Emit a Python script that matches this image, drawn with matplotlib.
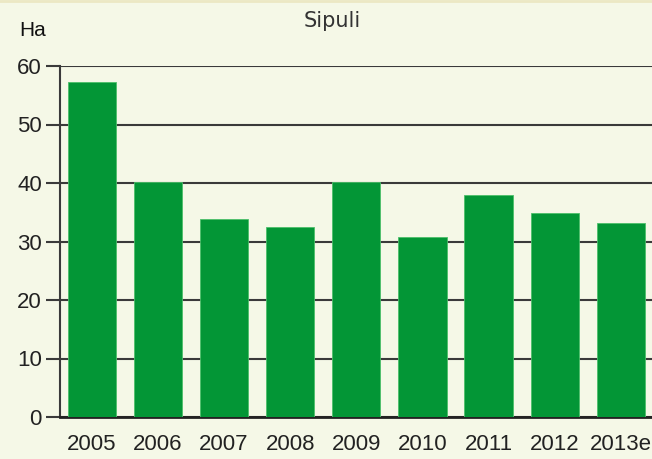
import matplotlib.pyplot as plt
from matplotlib import font_manager

years = ['2005', '2006', '2007', '2008', '2009', '2010', '2011', '2012', '2013e']
hectares = [57.3, 40.2, 33.8, 32.5, 40.2, 30.8, 37.9, 34.9, 33.2]
y_ticks = [0, 10, 20, 30, 40, 50, 60]

names = {f.name for f in font_manager.fontManager.ttflist}
narrow = 'Liberation Sans Narrow' if 'Liberation Sans Narrow' in names else 'Liberation Sans'

bg = '#f5f8e7'
bar_color = '#039636'
grid_color = '#3a3a3a'

W, H = 652, 459
fig = plt.figure(figsize=(W / 100, H / 100), dpi=100, facecolor=bg)
ax = fig.add_axes([60 / W, (H - 417) / H, (W - 60) / W, (417 - 66) / H])
ax.set_facecolor(bg)

x = list(range(len(years)))
ax.bar(x, hectares, width=0.73, color=bar_color, edgecolor='#4cbf6a', linewidth=0.6, zorder=3)

ax.set_xlim(-0.48, 8.47)
ax.set_ylim(0, 60)
ax.set_yticks(y_ticks)
ax.set_yticklabels([str(v) for v in y_ticks], fontfamily=narrow, fontsize=16, color='#222222')
ax.set_xticks(x)
ax.set_xticklabels(years, fontfamily=narrow, fontsize=16, color='#222222')
ax.tick_params(axis='y', length=10, width=1.5, color=grid_color, pad=3)
ax.tick_params(axis='x', length=0, pad=12)

ax.grid(axis='y', color=grid_color, linewidth=1.5, zorder=0)
ax.set_axisbelow(True)
for side in ['top', 'right']:
    ax.spines[side].set_visible(False)
ax.spines['left'].set_color(grid_color)
ax.spines['left'].set_linewidth(1.5)
ax.spines['bottom'].set_color('#222222')
ax.spines['bottom'].set_linewidth(2)

fig.text(33 / W, 1 - 31 / H, 'Ha', ha='center', va='center', fontfamily=narrow, fontsize=15, color='#111111')
fig.text(332 / W, 1 - 21 / H, 'Sipuli', ha='center', va='center', fontfamily='DejaVu Sans', fontsize=15, color='#333333')
fig.add_artist(plt.Line2D([0, 1], [1 - 1 / H, 1 - 1 / H], transform=fig.transFigure, color='#ece8c4', linewidth=2))

fig.savefig('out.png', dpi=100, facecolor=bg)
